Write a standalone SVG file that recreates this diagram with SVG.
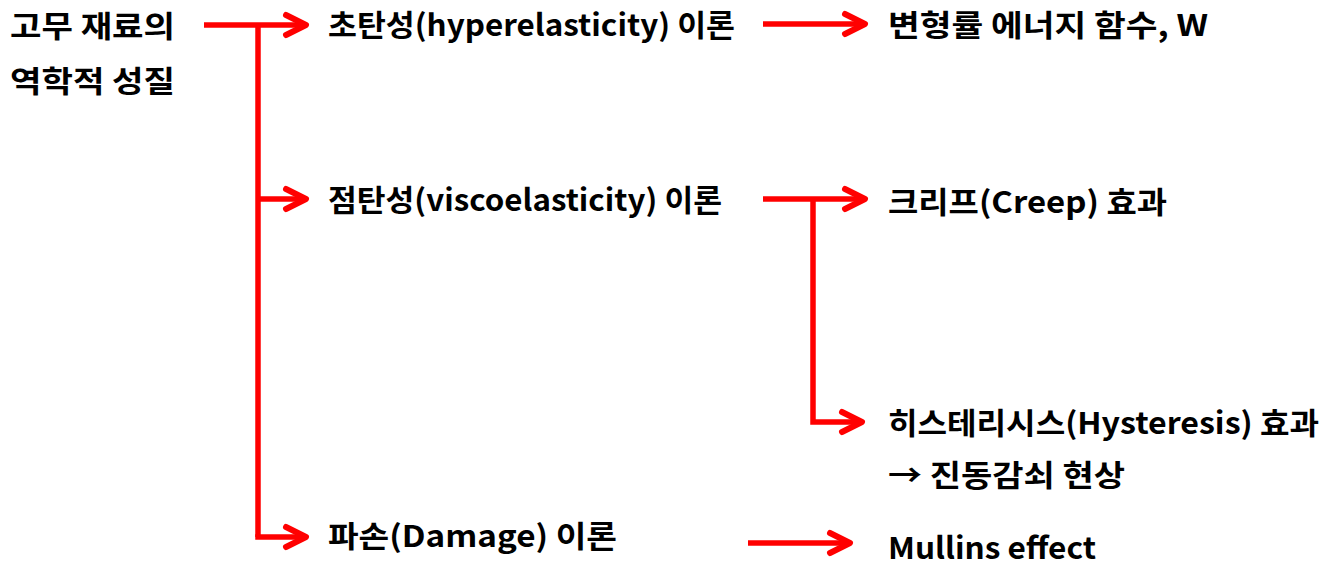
<svg xmlns="http://www.w3.org/2000/svg" width="1322" height="567" viewBox="0 0 1322 567">
<defs>
<style>
.t{font-family:"Noto Sans CJK KR","Noto Sans",sans-serif;font-weight:bold;font-size:30px;fill:#000}
.c{stroke:#ff0000;stroke-width:5.5;fill:none;stroke-linejoin:miter}
</style>
<marker id="ah" markerUnits="userSpaceOnUse" markerWidth="30" markerHeight="30" viewBox="-26 -15 30 30" refX="0" refY="0" orient="auto" overflow="visible">
<path d="M -20 -10 L 0 0 L -20 10" fill="none" stroke="#ff0000" stroke-width="6" stroke-linecap="round" stroke-linejoin="round"/>
</marker>
</defs>
<rect width="1322" height="567" fill="#fff"/>
<g id="connectors">
<path class="c" d="M 258 25 V 537"/>
<path class="c" d="M 204 25 H 306" marker-end="url(#ah)"/>
<path class="c" d="M 258 199 H 306" marker-end="url(#ah)"/>
<path class="c" d="M 255.25 537 H 306" marker-end="url(#ah)"/>
<path class="c" d="M 763 24 H 865" marker-end="url(#ah)"/>
<path class="c" d="M 763 199 H 865" marker-end="url(#ah)"/>
<path class="c" d="M 813 199 V 422 H 862" marker-end="url(#ah)"/>
<path class="c" d="M 748 543 H 850" marker-end="url(#ah)"/>
</g>
<g id="root"><text class="t" x="10" y="37" textLength="165" lengthAdjust="spacingAndGlyphs">고무 재료의</text><text class="t" x="10" y="92" textLength="165" lengthAdjust="spacingAndGlyphs">역학적 성질</text></g>
<g id="hyper"><text class="t" x="328" y="36" textLength="407" lengthAdjust="spacingAndGlyphs">초탄성(hyperelasticity) 이론</text></g>
<g id="strain"><text class="t" x="888" y="36" textLength="320" lengthAdjust="spacingAndGlyphs">변형률 에너지 함수, W</text></g>
<g id="visco"><text class="t" x="328" y="211" textLength="394" lengthAdjust="spacingAndGlyphs">점탄성(viscoelasticity) 이론</text></g>
<g id="creep"><text class="t" x="888" y="213" textLength="279" lengthAdjust="spacingAndGlyphs">크리프(Creep) 효과</text></g>
<g id="hyst"><text class="t" x="888" y="434" textLength="431" lengthAdjust="spacingAndGlyphs">히스테리시스(Hysteresis) 효과</text><text class="t" x="888" y="486" textLength="237" lengthAdjust="spacingAndGlyphs">→ 진동감쇠 현상</text></g>
<g id="damage"><text class="t" x="328" y="547" textLength="289" lengthAdjust="spacingAndGlyphs">파손(Damage) 이론</text></g>
<g id="mullins"><text class="t" x="888" y="559" textLength="208" lengthAdjust="spacingAndGlyphs">Mullins effect</text></g>
</svg>
